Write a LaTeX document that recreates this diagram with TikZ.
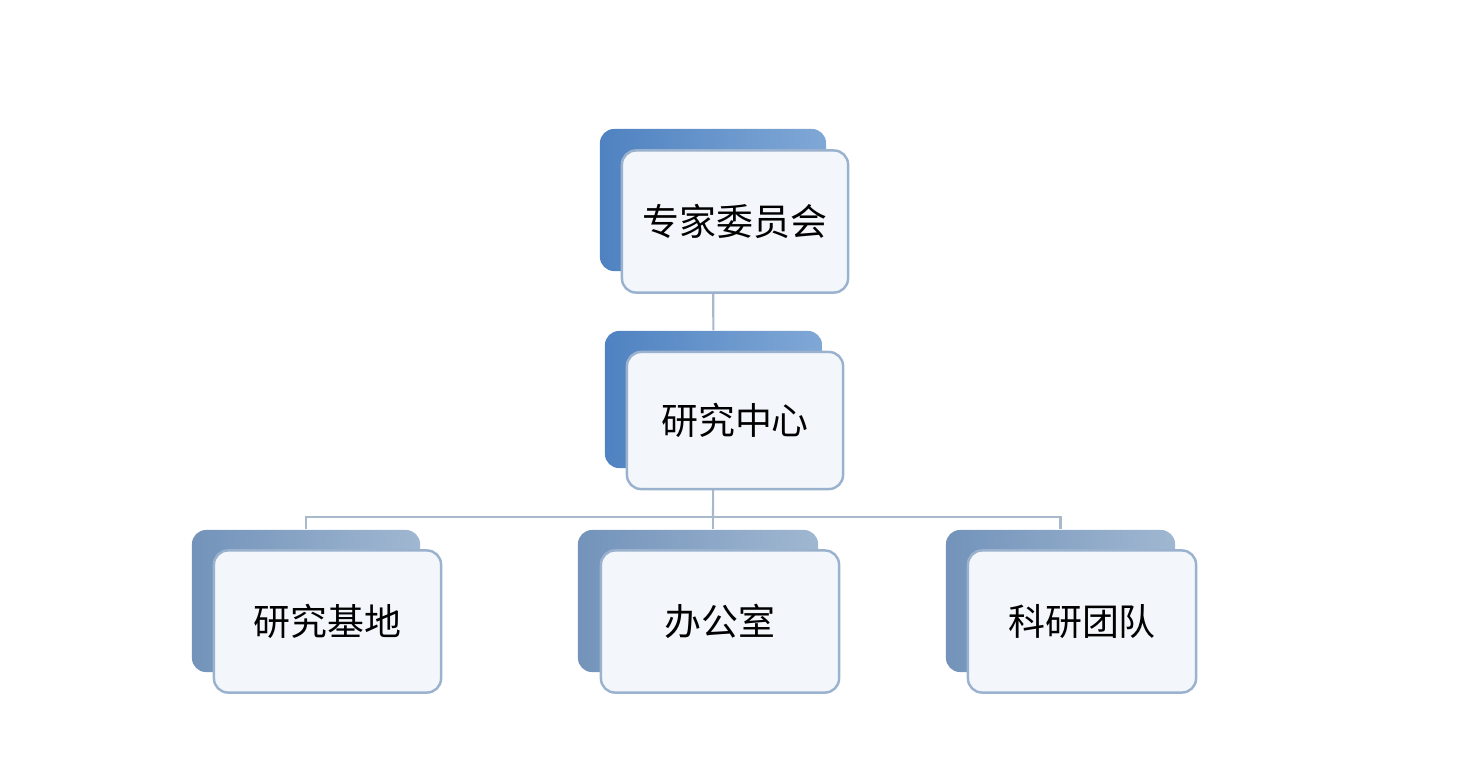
\documentclass[tikz,border=0pt]{standalone}
\usepackage{fontspec}
\newfontfamily\cjk{Noto Sans CJK SC}
\usetikzlibrary{backgrounds}
\definecolor{deepleft}{HTML}{4F82C1}
\definecolor{deepright}{HTML}{80A8D6}
\definecolor{greyleft}{HTML}{7393BA}
\definecolor{greyright}{HTML}{A0B7D1}
\definecolor{frontfill}{HTML}{F3F6FA}
\definecolor{frontline}{HTML}{9BB2CE}
\definecolor{linkline}{HTML}{A9B9CC}
\begin{document}
\begin{tikzpicture}[x=0.01cm,y=-0.01cm,line join=round,line cap=round]
	\tikzset{backbox/.style={rounded corners=4pt,inner sep=0pt,minimum height=1.42cm,left color=deepleft,right color=deepright},
		greybox/.style={backbox,left color=greyleft,right color=greyright},
		frontbox/.style={draw=frontline,line width=0.7pt,fill=frontfill,rounded corners=4pt,inner sep=0pt,minimum height=1.42cm,font=\cjk\fontsize{10.5}{12}\selectfont},
		link/.style={draw=linkline,line width=0.6pt}}
	\useasboundingbox (0,0) rectangle (1482,778);
	\node[backbox,minimum width=2.26cm] (zj-b) at (713,200) {};
	\node[frontbox,minimum width=2.26cm] (zj) at (735,221.5) {专家委员会};
	\node[backbox,minimum width=2.17cm,minimum height=1.37cm] (yz-b) at (713.5,399.5) {};
	\node[frontbox,minimum width=2.16cm,minimum height=1.37cm] (yz) at (735,420.5) {研究中心};
	\node[greybox,minimum width=2.28cm] (jd-b) at (306,601) {};
	\node[frontbox,minimum width=2.27cm] (jd) at (327.5,621.5) {研究基地};
	\node[greybox,minimum width=2.40cm] (bg-b) at (698,601) {};
	\node[frontbox,minimum width=2.38cm] (bg) at (720,621.5) {办公室};
	\node[greybox,minimum width=2.29cm] (ky-b) at (1060.5,601) {};
	\node[frontbox,minimum width=2.28cm] (ky) at (1082,621.5) {科研团队};
	\coordinate (bus) at (713,517);
	\begin{scope}[on background layer]
		\draw[link] (zj-b) -- (yz-b);
		\draw[link] (yz-b) -- (bus);
		\draw[link] (jd-b) |- (bus) -| (ky-b);
		\draw[link] (bus) -- (bus |- bg-b.north);
	\end{scope}
\end{tikzpicture}
\end{document}
